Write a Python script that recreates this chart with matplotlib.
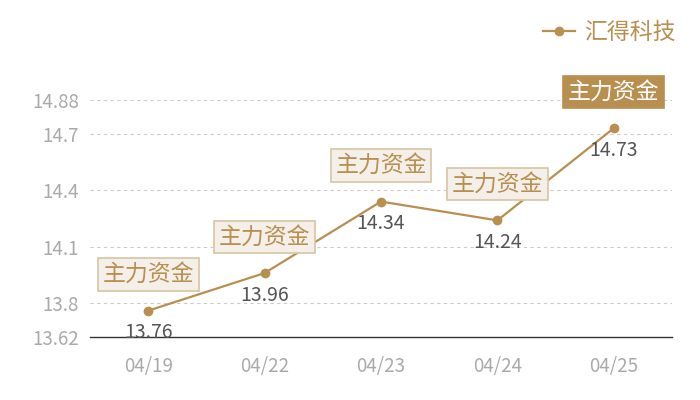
import matplotlib
matplotlib.use("Agg")
import matplotlib.pyplot as plt

plt.rcParams["font.family"] = ["Noto Sans CJK SC", "DejaVu Sans"]

dates = ["04/19", "04/22", "04/23", "04/24", "04/25"]
prices = [13.76, 13.96, 14.34, 14.24, 14.73]
y_ticks = [13.62, 13.8, 14.1, 14.4, 14.7, 14.88]
tag_text = "主力资金"
series_name = "汇得科技"

GOLD = "#b98f50"

fig = plt.figure(figsize=(7, 4), dpi=100)
ax = fig.add_axes([90 / 700, 63 / 400, 582 / 700, 237 / 400])

x = list(range(len(dates)))
ax.plot(x, prices, color=GOLD, lw=1.6, marker="o", ms=6, label=series_name,
        clip_on=False, zorder=3)

ax.set_xlim(-0.5, len(dates) - 0.5)
ax.set_ylim(y_ticks[0], y_ticks[-1])
ax.set_yticks(y_ticks)
ax.set_yticklabels([f"{v:g}" for v in y_ticks])
ax.set_xticks(x)
ax.set_xticklabels(dates)
ax.tick_params(length=0, labelsize=13.5, colors="#aaaaaa", pad=8)
ax.tick_params(axis="x", pad=14)

for v in y_ticks[1:]:
    ax.axhline(v, color="#cccccc", lw=0.8, ls=(0, (3, 3)), zorder=1)
for s in ["top", "right", "left"]:
    ax.spines[s].set_visible(False)
ax.spines["bottom"].set_color("#333333")
ax.spines["bottom"].set_linewidth(1)

for i, (xi, p) in enumerate(zip(x, prices)):
    last = i == len(x) - 1
    ax.annotate(tag_text, (xi, p), xytext=(0, 26), textcoords="offset points",
                ha="center", va="center", fontsize=16.5,
                color="white" if last else GOLD, annotation_clip=False, zorder=4,
                bbox=dict(boxstyle="square,pad=0.2",
                          fc=GOLD if last else "#f4efe8",
                          ec=GOLD if last else "#d8c4a2", lw=1.2))
    ax.annotate(f"{p:.2f}", (xi, p), xytext=(0, -16), textcoords="offset points",
                ha="center", va="center", fontsize=14, color="#555555",
                annotation_clip=False, zorder=5)

fig.legend(loc="upper right", bbox_to_anchor=(0.995, 1.0), frameon=False,
           fontsize=16.5, labelcolor=GOLD, handlelength=1.4, handletextpad=0.4,
           markerscale=1.0)

fig.savefig("out.png", dpi=100)
